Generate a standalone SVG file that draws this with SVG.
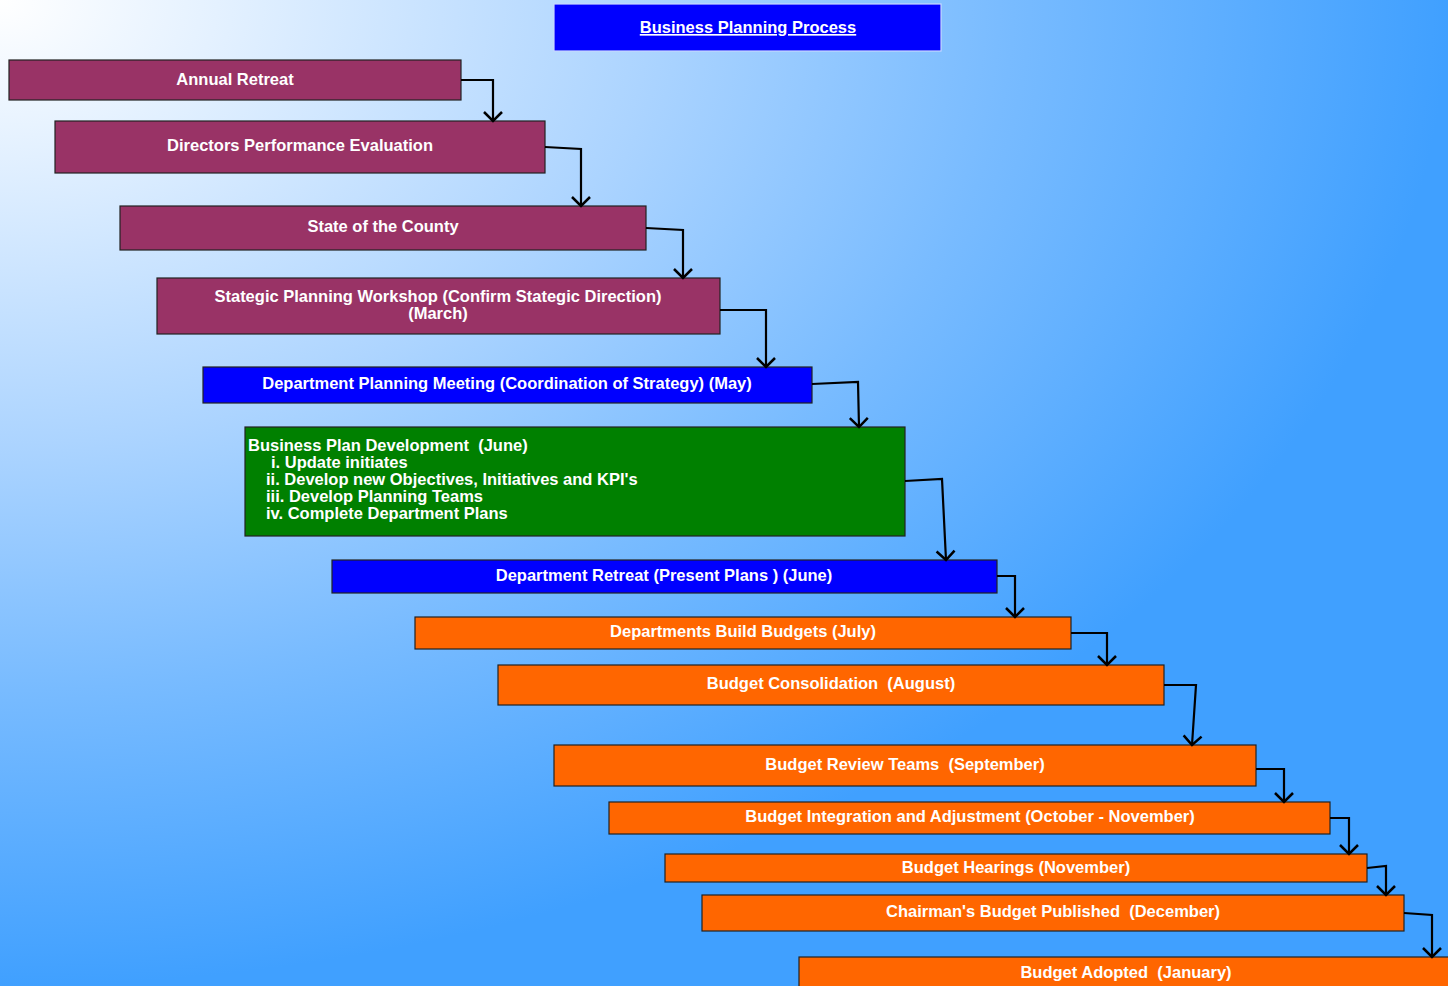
<svg xmlns="http://www.w3.org/2000/svg" width="1448" height="986" viewBox="0 0 1448 986">
<defs>
<radialGradient id="bg" cx="0" cy="0" r="1" gradientUnits="userSpaceOnUse" gradientTransform="scale(1448,986)">
<stop offset="0" stop-color="#ffffff"/>
<stop offset="0.15" stop-color="#e4f1ff"/>
<stop offset="0.45" stop-color="#acd4ff"/>
<stop offset="0.7" stop-color="#78bbff"/>
<stop offset="1" stop-color="#40a0ff"/>
</radialGradient>
<marker id="arr" markerUnits="userSpaceOnUse" markerWidth="24" markerHeight="24" refX="12" refY="12" orient="auto" viewBox="0 0 24 24">
<path d="M3,3 L12,12 L3,21" fill="none" stroke="#000" stroke-width="2.5"/>
</marker>
<style>
.box{stroke:#222;stroke-width:1.2}
.m{fill:#993366}
.b{fill:#0000ff}
.g{fill:#008000}
.o{fill:#ff6600}
.t{font-family:"Liberation Sans",Arial,sans-serif;font-weight:bold;font-size:16.5px;fill:#fff;white-space:pre}
.c{text-anchor:middle}
.con{fill:none;stroke:#000;stroke-width:2.2;marker-end:url(#arr)}
</style>
</defs>
<rect x="0" y="0" width="1448" height="986" fill="url(#bg)"/>
<g id="title">
<rect x="554" y="4" width="387" height="47" fill="#0000ff" stroke="#c8d8ff" stroke-width="1.2"/>
<text class="t c" x="748" y="33" text-decoration="underline">Business Planning Process</text>
</g>
<g id="n1"><rect class="box m" x="9" y="60" width="452" height="40"/><text class="t c" x="235" y="85">Annual Retreat</text></g>
<g id="n2"><rect class="box m" x="55" y="121" width="490" height="52"/><text class="t c" x="300" y="151">Directors Performance Evaluation</text></g>
<g id="n3"><rect class="box m" x="120" y="206" width="526" height="44"/><text class="t c" x="383" y="232">State of the County</text></g>
<g id="n4"><rect class="box m" x="157" y="278" width="563" height="56"/><text class="t c" x="438" y="302">Stategic Planning Workshop (Confirm Stategic Direction)</text><text class="t c" x="438" y="319">(March)</text></g>
<g id="n5"><rect class="box b" x="203" y="367" width="609" height="36"/><text class="t c" x="507" y="389">Department Planning Meeting (Coordination of Strategy) (May)</text></g>
<g id="n6"><rect class="box g" x="245" y="427" width="660" height="109"/>
<text class="t" x="248" y="451">Business Plan Development  (June)</text>
<text class="t" x="271" y="468">i. Update initiates</text>
<text class="t" x="266" y="485">ii. Develop new Objectives, Initiatives and KPI's</text>
<text class="t" x="266" y="502">iii. Develop Planning Teams</text>
<text class="t" x="266" y="519">iv. Complete Department Plans</text></g>
<g id="n7"><rect class="box b" x="332" y="560" width="665" height="33"/><text class="t c" x="664" y="581">Department Retreat (Present Plans ) (June)</text></g>
<g id="n8"><rect class="box o" x="415" y="617" width="656" height="32"/><text class="t c" x="743" y="637">Departments Build Budgets (July)</text></g>
<g id="n9"><rect class="box o" x="498" y="665" width="666" height="40"/><text class="t c" x="831" y="689">Budget Consolidation  (August)</text></g>
<g id="n10"><rect class="box o" x="554" y="745" width="702" height="41"/><text class="t c" x="905" y="770">Budget Review Teams  (September)</text></g>
<g id="n11"><rect class="box o" x="609" y="802" width="721" height="32"/><text class="t c" x="970" y="822">Budget Integration and Adjustment (October - November)</text></g>
<g id="n12"><rect class="box o" x="665" y="854" width="702" height="28"/><text class="t c" x="1016" y="873">Budget Hearings (November)</text></g>
<g id="n13"><rect class="box o" x="702" y="895" width="702" height="36"/><text class="t c" x="1053" y="917">Chairman's Budget Published  (December)</text></g>
<g id="n14"><rect class="box o" x="799" y="957" width="660" height="40"/><text class="t c" x="1126" y="978">Budget Adopted  (January)</text></g>
<g id="connectors">
<polyline class="con" points="461,80 493,80 493,121"/>
<polyline class="con" points="545,147 581,149 581,206"/>
<polyline class="con" points="646,228 683,230 683,278"/>
<polyline class="con" points="720,310 766,310 766,367"/>
<polyline class="con" points="812,384 858,382 859,427"/>
<polyline class="con" points="905,481 942,479 946,560"/>
<polyline class="con" points="997,576 1015,576 1015,617"/>
<polyline class="con" points="1071,633 1107,633 1107,665"/>
<polyline class="con" points="1164,685 1196,685 1192,745"/>
<polyline class="con" points="1256,769 1284,769 1284,802"/>
<polyline class="con" points="1330,818 1349,818 1349,854"/>
<polyline class="con" points="1367,868 1386,866 1386,895"/>
<polyline class="con" points="1404,913 1432,915 1432,957"/>
</g>
</svg>
